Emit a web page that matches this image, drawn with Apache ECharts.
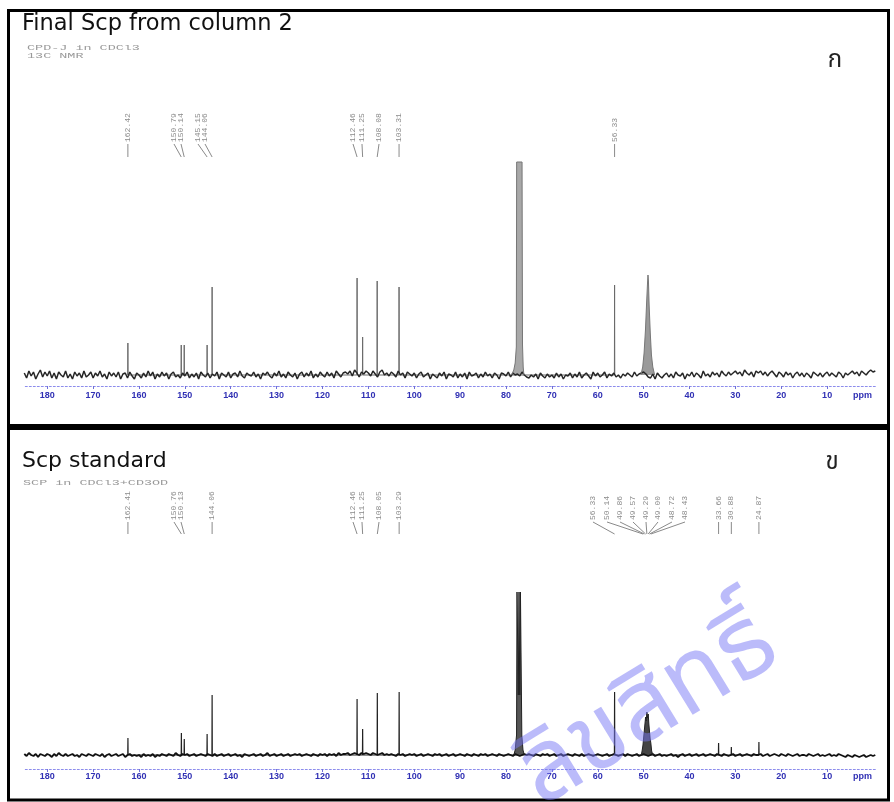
<!DOCTYPE html>
<html><head><meta charset="utf-8">
<script src="https://cdn.jsdelivr.net/npm/echarts@6/dist/echarts.min.js"></script>
<style>html,body{margin:0;padding:0;background:#fff}#c{width:894px;height:802px}</style>
</head><body><div id="c"></div>
<script>
// ---- data ----
const ppmTicks = [180,170,160,150,140,130,120,110,100,90,80,70,60,50,40,30,20,10];
const ppmNameAt = 2.3;
const noiseStart = 185, noiseStep = 0.5;
const noiseTop = [
2,-3,4,-1,3,-4,1,5,-2,3, -1,4,-3,2,-4,3,0,-2,4,-3, 1,-4,3,-1,2,-3,4,-2,0,3, -3,2,-1,4,-2,1,-4,3,-1,2,
-2,3,-4,1,2,-3,3,-1,-4,2, 0,-3,2,-2,4,-1,3,-4,1,-2, 3,-1,2,-4,1,3,-2,0,-3,2, -1,3,-3,1,-2,2,-4,3,0,-2,
2,-3,1,-1,3,-4,2,0,-2,3, -3,1,2,-2,4,-1,-3,2,0,-1, 3,-2,1,-4,2,0,3,-1,-3,2, -1,4,-2,1,-3,3,0,-2,2,-4,
1,3,-2,2,-1,4,-3,1,-2,3, 0,-2,3,-1,2,-3,4,1,-2,2, 3,1,4,-1,5,2,-2,3,1,4, 2,-1,4,1,-2,3,5,0,2,-1,
3,1,-2,4,0,2,-3,3,1,-1, 2,-3,1,3,-2,0,2,-4,1,-1, -3,2,-1,3,-4,1,0,-2,3,-3, 1,-2,2,-4,3,-1,0,2,-3,1,
-2,3,-1,1,-3,2,0,-4,2,1, -1,3,-2,2,0,1,-1,3,0,-2, -3,0,-2,1,-4,2,-1,-3,1,-2, 0,-3,2,-2,1,-4,0,-1,2,-3,
1,-2,3,-3,0,2,-1,-4,3,-1, 2,-2,0,3,-3,1,-1,2,-2,0, -3,1,-1,2,0,-2,3,-1,1,2, 3,1,-2,-3,1,-4,2,-1,-3,0,
2,-2,1,-3,3,0,-1,2,-4,1, -1,3,-2,2,0,-3,4,-1,1,-2, 3,0,2,-2,4,1,-1,3,0,2, 4,1,3,-1,5,2,0,3,-2,4,
2,4,0,3,-1,2,4,1,-2,3, 1,-2,3,0,2,-3,1,3,-1,2, -2,2,0,-3,3,1,-1,2,-2,1, 3,-1,2,0,-2,3,1,-3,2,0,
2,4,1,3,-1,4,2,0,3,5, 3,4
];
const noiseBottom = [
1,-1,2,0,-1,1,-2,1,0,-1, 1,0,-2,1,-1,2,0,-1,1,-1, 0,1,-1,0,-2,1,0,-1,1,0, -1,1,0,-1,1,-2,0,1,-1,0,
1,-1,0,1,-2,0,1,-1,0,-1, 0,-2,1,-1,0,-1,1,-2,0,-1, 1,0,-1,1,0,-1,2,0,-1,1, 0,1,-1,0,1,-1,0,1,0,-1,
1,0,-1,1,-1,0,1,-1,0,1, -1,0,1,-1,0,-2,1,0,-1,0, 1,-1,0,1,-1,0,2,-1,0,1, -1,0,1,-1,0,1,-1,0,1,0,
1,-1,0,1,0,-1,1,0,-1,1, 0,1,-1,1,0,1,-1,2,0,1, 1,2,0,1,2,1,0,2,1,2, 1,0,2,1,0,1,2,0,1,0,
1,0,-1,1,0,1,-1,0,1,0, 1,-1,0,1,-1,0,1,0,-1,1, 0,1,-1,0,1,-1,0,1,-1,0, 1,0,-1,1,0,-1,1,0,-1,1,
0,1,-1,0,1,0,-1,1,0,-1, 0,1,0,-1,1,0,-1,0,1,0, 1,0,-1,1,0,-1,1,0,1,-1, 0,1,-1,0,1,-1,0,1,0,-1,
1,0,-1,1,-1,0,1,0,-1,0, 1,0,-1,0,1,-1,0,1,0,-1, 0,1,-1,1,0,-1,0,1,-1,0, 1,0,-1,0,1,-1,0,1,-1,0,
-1,0,1,-1,0,-2,0,1,-1,0, 1,-1,0,1,-1,0,1,-1,0,1, 0,-1,1,0,-1,1,0,-1,0,1, -1,0,1,-1,0,1,0,-1,1,0,
0,1,-1,0,1,-1,0,1,0,-1, 1,0,-1,1,0,-1,0,1,-1,0, 0,-1,1,0,-1,0,1,-1,0,-1, 0,1,-1,0,-1,1,0,-1,-2,0,
-1,-2,0,-1,-2,-1,0,-2,-1,0, -1,0
];
// [ppm, height]
const peaksTop = [[162.42,32],[150.79,30],[150.14,30],[145.15,30],[144.06,88],[112.46,97],[111.25,38],[108.08,94],[103.31,88],[56.33,90]];
const peaksBottom = [[162.41,17],[150.76,22],[150.13,16],[145.15,21],[144.06,60],[112.46,56],[111.25,26],[108.05,62],[103.29,63],[56.33,63],[33.66,12],[30.88,8],[24.87,13]];
const cdcl3Top = [[78.8,0],[78.3,5],[78.0,12],[77.75,28],[77.68,213],[76.5,213],[76.4,30],[76.25,8],[76.1,0]];
const cd3odTop = [[50.6,0],[50.2,8],[49.9,22],[49.6,45],[49.35,72],[49.15,92],[49.05,100],[48.95,94],[48.8,70],[48.55,42],[48.3,20],[48.0,8],[47.6,0]];
const cdcl3Bottom = [[78.3,0],[78.0,5],[77.7,20],[77.6,163],[77.45,163],[77.32,60],[77.16,163],[77.0,60],[76.85,163],[76.7,163],[76.55,20],[76.3,5],[76.0,0]];
const cd3odBottom = [[50.5,0],[50.3,5],[50.14,10],[50.0,9],[49.86,24],[49.72,22],[49.57,38],[49.43,34],[49.29,43],[49.15,37],[49.0,41],[48.86,31],[48.72,30],[48.57,16],[48.43,12],[48.25,4],[48.0,0]];
// [text, peak ppm, label ppm]
const labelsTop = [['162.42',162.42,162.42],['150.79',150.79,152.37],['150.14',150.14,150.84],['145.15',145.15,147.14],['144.06',144.06,145.61],
  ['112.46',112.46,113.35],['111.25',111.25,111.39],['108.08',108.08,107.68],['103.31',103.31,103.31],['56.33',56.33,56.33]];
const labelsBottom = [['162.41',162.41,162.41],['150.76',150.76,152.37],['150.13',150.13,150.84],['144.06',144.06,144.06],
  ['112.46',112.46,113.35],['111.25',111.25,111.39],['108.05',108.05,107.68],['103.29',103.29,103.29],
  ['56.33',56.33,61.04],['50.14',50.14,57.98],['49.86',49.86,55.15],['49.57',49.57,52.32],['49.29',49.29,49.48],['49.00',49.00,46.87],['48.72',48.72,43.82],['48.43',48.43,40.98],
  ['33.66',33.66,33.66],['30.88',30.88,30.88],['24.87',24.87,24.87]];

// ---- build ----
function buildNoise(noise){ return noise.map((v,i)=>[noiseStart - i*noiseStep, v]); }
function buildPeaks(peaks){
  const pts = [];
  peaks.forEach(([p,h])=>{ pts.push([p+0.04,0],[p,h],[p-0.04,0]); });
  pts.sort((a,b)=>b[0]-a[0]);
  return pts;
}
function labelSeries(labels, idx, yText, yL0, yL1){
  return {
    type:'custom', xAxisIndex:idx, yAxisIndex:idx, silent:true, clip:false, z:5,
    data: labels.map(l=>[l[1], yText]),
    renderItem:(params, api)=>{
      const l = labels[params.dataIndex];
      const pk = api.coord([l[1], yL1]);
      const lb = api.coord([l[2], yL0]);
      const tx = api.coord([l[2], yText]);
      return {type:'group', children:[
        {type:'line', shape:{x1:lb[0],y1:lb[1],x2:pk[0],y2:pk[1]}, style:{stroke:'#8a8a8a', lineWidth:1}},
        {type:'text', x:tx[0], y:tx[1], rotation:Math.PI/2,
          style:{text:l[0], font:'8px "Liberation Mono", monospace', fill:'#8a8a8a', align:'left', verticalAlign:'middle'}}
      ]};
    }
  };
}
function xAxisFor(idx, margin){
  return {type:'value', gridIndex:idx, min:-0.5, max:185, inverse:true,
    axisLine:{show:true, onZero:false, lineStyle:{color:'#8c8cec', type:[2,2], width:1}},
    axisTick:{show:true, customValues:ppmTicks, length:3, lineStyle:{color:'#7070d8'}},
    axisLabel:{customValues:ppmTicks.concat([ppmNameAt]), formatter:v=> (v===ppmNameAt?'ppm':String(v)),
      color:'#3030b4', fontWeight:'bold', fontSize:9, fontFamily:'Liberation Sans', margin:margin},
    splitLine:{show:false}};
}
const thai = '"Noto Sans Thai","Noto Sans Thai UI","Loma","Garuda","Tlwg Typo","Norasi","Kinnari",sans-serif';
const chart = echarts.init(document.getElementById('c'), null, {renderer:'canvas'});
chart.setOption({
  backgroundColor:'#fff',
  animation:false,
  grid:[
    {left:24.3, right:18.7, top:100, height:286},
    {left:24.3, right:18.7, top:490, height:279}
  ],
  xAxis:[xAxisFor(0,5), xAxisFor(1,3)],
  yAxis:[
    {type:'value', gridIndex:0, min:-11, max:275, show:false, splitLine:{show:false}},
    {type:'value', gridIndex:1, min:-14, max:265, show:false, splitLine:{show:false}}
  ],
  series:[
    {type:'line', xAxisIndex:0, yAxisIndex:0, data:buildNoise(noiseTop), symbol:'none',
      lineStyle:{color:'#262626', width:1.5}, silent:true},
    {type:'line', xAxisIndex:0, yAxisIndex:0, data:buildPeaks(peaksTop), symbol:'none',
      lineStyle:{color:'#6a6a6a', width:1}, silent:true, z:2},
    {type:'line', xAxisIndex:0, yAxisIndex:0, data:cdcl3Top, symbol:'none', lineStyle:{color:'#777', width:1}, areaStyle:{color:'#a8a8a8', opacity:1}, silent:true, z:3},
    {type:'line', xAxisIndex:0, yAxisIndex:0, data:cd3odTop, symbol:'none', lineStyle:{color:'#777', width:1}, areaStyle:{color:'#9a9a9a', opacity:1}, silent:true, z:3},
    {type:'line', xAxisIndex:1, yAxisIndex:1, data:buildNoise(noiseBottom), symbol:'none',
      lineStyle:{color:'#111', width:1.9}, silent:true},
    {type:'line', xAxisIndex:1, yAxisIndex:1, data:buildPeaks(peaksBottom), symbol:'none',
      lineStyle:{color:'#222', width:1.2}, silent:true, z:2},
    {type:'line', xAxisIndex:1, yAxisIndex:1, data:cdcl3Bottom, symbol:'none', lineStyle:{color:'#222', width:1}, areaStyle:{color:'#555', opacity:1}, silent:true, z:3},
    {type:'line', xAxisIndex:1, yAxisIndex:1, data:cd3odBottom, symbol:'none', lineStyle:{color:'#222', width:1}, areaStyle:{color:'#444', opacity:1}, silent:true, z:3},
    labelSeries(labelsTop, 0, 233, 231, 218),
    labelSeries(labelsBottom, 1, 235, 233, 221)
  ],
  graphic:[
    {type:'rect', z:10, shape:{x:8.5,y:10.5,width:880,height:415}, style:{fill:'none', stroke:'#000', lineWidth:3}},
    {type:'rect', z:10, shape:{x:8.5,y:428.5,width:880,height:371.5}, style:{fill:'none', stroke:'#000', lineWidth:3}},
    {type:'text', z:10, x:22, y:24, style:{text:'Final Scp from column 2', font:'22.5px "DejaVu Sans"', fill:'#111', verticalAlign:'middle'}},
    {type:'text', z:10, x:27, y:47.5, scaleX:1.68, style:{text:'CPD-J in CDCl3', font:'8px "Liberation Mono"', fill:'#999', verticalAlign:'middle'}},
    {type:'text', z:10, x:27, y:55.5, scaleX:1.68, style:{text:'13C NMR', font:'8px "Liberation Mono"', fill:'#999', verticalAlign:'middle'}},
    {type:'text', z:10, x:835, y:62, style:{text:'ก', font:'24px '+thai, fill:'#222', align:'center', verticalAlign:'middle'}},
    {type:'text', z:10, x:22, y:461, style:{text:'Scp standard', font:'22px "DejaVu Sans"', fill:'#111', verticalAlign:'middle'}},
    {type:'text', z:10, x:23, y:482.5, scaleX:1.68, style:{text:'SCP in CDCl3+CD3OD', font:'8px "Liberation Mono"', fill:'#999', verticalAlign:'middle'}},
    {type:'text', z:10, x:832, y:464, style:{text:'ข', font:'24px '+thai, fill:'#222', align:'center', verticalAlign:'middle'}},
    {type:'text', z:20, x:652, y:716, rotation:0.55, style:{text:'ลิขสิทธิ์', font:'100px '+thai, fill:'rgba(120,120,245,0.5)', align:'center', verticalAlign:'middle'}}
  ]
});
</script></body></html>
